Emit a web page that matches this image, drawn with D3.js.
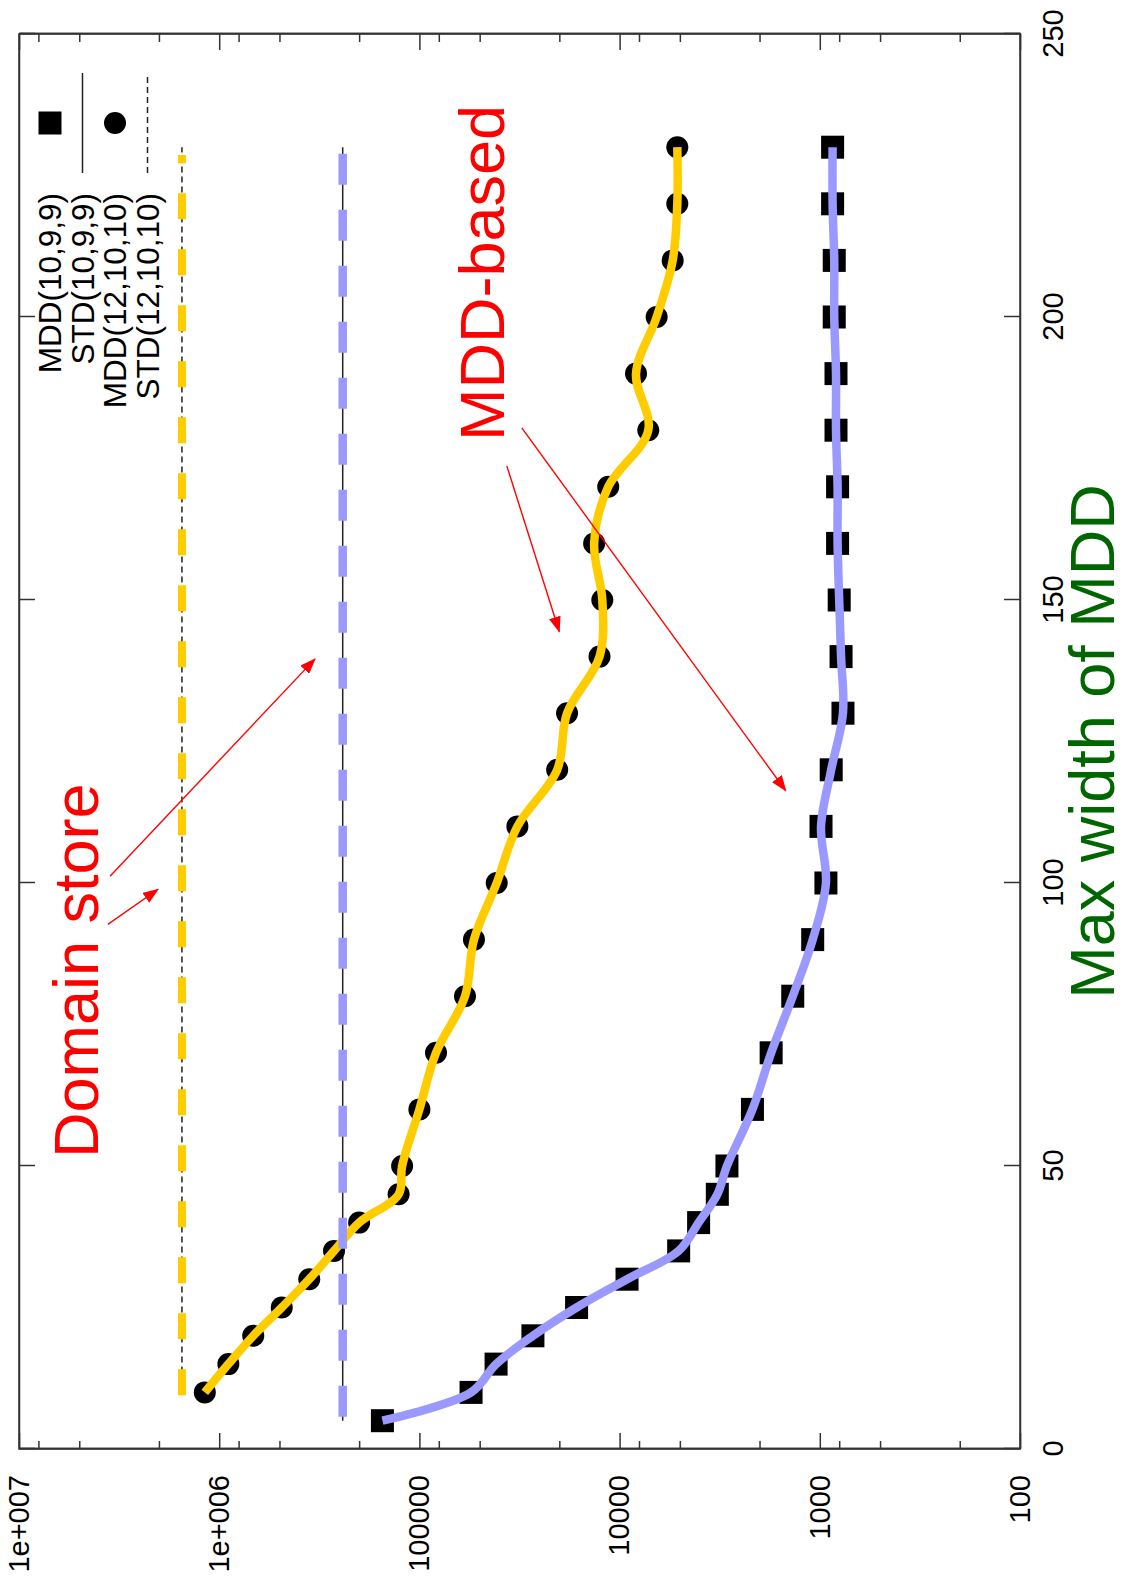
<!DOCTYPE html>
<html>
<head>
<meta charset="utf-8">
<script src="https://cdn.jsdelivr.net/npm/d3@7"></script>
<style>
  body { margin: 0; background: #fff; }
  text { font-family: "Liberation Sans", Arial, sans-serif; }
  .axis line, .axis path { stroke: #333; stroke-width: 1.5; }
</style>
</head>
<body>
<svg id="main"></svg>
<script>
// MDD(10,9,9) - squares
var widthA = [5,10,15,20,25,30,35,40,45,50,60,70,80,90,100,110,120,130,140,150,160,170,180,190,200,210,220,230];
var mddA = [153000,55200,41400,27100,16400,9180,5070,4030,3250,2910,2170,1750,1365,1085,932,986,877,766,783,800,815,815,830,830,847,847,863,863];
// MDD(12,10,10) - circles
var widthB = [10,15,20,25,30,35,40,45,50,60,70,80,90,100,110,120,130,140,150,160,170,180,190,200,210,220,230];
var mddB = [1180000,900000,676000,487000,355000,267000,200000,127000,122000,100000,82600,59200,53400,41100,32400,20500,18300,12600,12200,13400,11400,7190,8280,6530,5430,5150,5150];
// STD levels (constant over width)
var stdA = 241600;
var stdB = 1535000;

var legendNames = ["MDD(10,9,9)", "STD(10,9,9)", "MDD(12,10,10)", "STD(12,10,10)"];
var xTicks = [0, 50, 100, 150, 200, 250];
var yTicks = [100, 1000, 10000, 100000, 1000000, 10000000];
var yLabels = ["100", "1000", "10000", "100000", "1e+006", "1e+007"];
var minorSteps = [2, 5, 8];

var w = 1128, h = 1579;
var W = 1415, H = 1001;

var svg = d3.select("#main")
  .attr("width", w)
  .attr("height", h);

svg.append("defs").append("marker")
  .attr("id", "arrow")
  .attr("viewBox", "0 -6 16 12")
  .attr("refX", 15)
  .attr("refY", 0)
  .attr("markerUnits", "userSpaceOnUse")
  .attr("markerWidth", 16)
  .attr("markerHeight", 12)
  .attr("orient", "auto")
  .append("path")
  .attr("d", "M0,-6L16,0L0,6Z")
  .attr("fill", "#ff0000");

// whole gnuplot page is turned a quarter to the left
var g = svg.append("g")
  .attr("transform", "translate(19,1449) rotate(-90)");

var x = d3.scaleLinear().domain([0, 250]).range([0, W]);
var y = d3.scaleLog().domain([100, 1e7]).range([H, 0]);

var yMinor = [];
yTicks.slice(0, -1).forEach(function(d) {
  minorSteps.forEach(function(m) { yMinor.push(d * m); });
});

function styleAxis(sel) {
  sel.attr("font-size", 29)
    .attr("font-family", "Liberation Sans, Arial, sans-serif");
  sel.selectAll("text").attr("fill", "#000");
}

g.append("g")
  .attr("class", "axis")
  .attr("transform", "translate(0," + H + ")")
  .call(d3.axisBottom(x).tickValues(xTicks).tickSizeInner(-16).tickSizeOuter(0).tickPadding(22))
  .call(styleAxis);

g.append("g")
  .attr("class", "axis")
  .call(d3.axisTop(x).tickValues(xTicks).tickSizeInner(-16).tickSizeOuter(0).tickFormat(""));

g.append("g")
  .attr("class", "axis")
  .call(d3.axisLeft(y).tickValues(yTicks).tickFormat(function(d, i) { return yLabels[i]; })
    .tickSizeInner(-16).tickSizeOuter(0).tickPadding(26))
  .call(styleAxis);

g.append("g")
  .attr("class", "axis")
  .call(d3.axisLeft(y).tickValues(yMinor).tickSizeInner(-8).tickSizeOuter(0).tickFormat(""));

g.append("g")
  .attr("class", "axis")
  .attr("transform", "translate(" + W + ",0)")
  .call(d3.axisRight(y).tickValues(yTicks).tickSizeInner(-16).tickSizeOuter(0).tickFormat(""));

g.append("g")
  .attr("class", "axis")
  .attr("transform", "translate(" + W + ",0)")
  .call(d3.axisRight(y).tickValues(yMinor).tickSizeInner(-8).tickSizeOuter(0).tickFormat(""));

g.append("rect")
  .attr("width", W)
  .attr("height", H)
  .attr("fill", "none")
  .attr("stroke", "#333")
  .attr("stroke-width", 1.5);

// STD lines
var flat = d3.line()
  .x(function(d) { return x(d[0]); })
  .y(function(d) { return y(d[1]); });

g.append("path")
  .attr("d", flat([[widthA[0], stdA], [widthA[widthA.length - 1], stdA]]))
  .attr("stroke", "#222")
  .attr("stroke-width", 1.5)
  .attr("fill", "none");

g.append("path")
  .attr("d", flat([[widthB[0], stdB], [widthB[widthB.length - 1], stdB]]))
  .attr("stroke", "#222")
  .attr("stroke-width", 1.5)
  .attr("stroke-dasharray", "6,4")
  .attr("fill", "none");

// points
g.selectAll("rect.sq")
  .data(widthA)
  .enter()
  .append("rect")
  .attr("class", "sq")
  .attr("x", function(d) { return x(d) - 11.5; })
  .attr("y", function(d, i) { return y(mddA[i]) - 11.5; })
  .attr("width", 23)
  .attr("height", 23)
  .attr("fill", "#000");

g.selectAll("circle.ci")
  .data(widthB)
  .enter()
  .append("circle")
  .attr("class", "ci")
  .attr("cx", function(d) { return x(d); })
  .attr("cy", function(d, i) { return y(mddB[i]); })
  .attr("r", 11)
  .attr("fill", "#000");

// hand drawn smooth curves over the points
var smooth = d3.line()
  .curve(d3.curveCatmullRom.alpha(0.5))
  .x(function(d) { return x(d[0]); })
  .y(function(d) { return y(d[1]); });

g.append("path")
  .attr("d", smooth(widthA.map(function(d, i) { return [d, mddA[i]]; })))
  .attr("stroke", "#9999ff")
  .attr("stroke-width", 8.5)
  .attr("fill", "none");

g.append("path")
  .attr("d", smooth(widthB.map(function(d, i) { return [d, mddB[i]]; })))
  .attr("stroke", "#ffcc00")
  .attr("stroke-width", 8.5)
  .attr("fill", "none");

// coloured dashes over the STD levels
g.append("path")
  .attr("d", flat([[5.7, stdA], [229.5, stdA]]))
  .attr("stroke", "#9999ff")
  .attr("stroke-width", 8.5)
  .attr("stroke-dasharray", "31,25")
  .attr("fill", "none");

g.append("path")
  .attr("d", flat([[9.5, stdB], [228.6, stdB]]))
  .attr("stroke", "#ffcc00")
  .attr("stroke-width", 8)
  .attr("stroke-dasharray", "26,30")
  .attr("fill", "none");

// legend
var lg = g.append("g");
legendNames.forEach(function(name, i) {
  var cy = 31 + i * 32.5;
  lg.append("text")
    .attr("x", 1256)
    .attr("y", cy + 11)
    .attr("text-anchor", "end")
    .attr("font-size", 31.5)
    .text(name);
});
lg.append("rect").attr("x", 1326 - 11.5).attr("y", 31 - 11.5).attr("width", 23).attr("height", 23).attr("fill", "#000");
lg.append("line").attr("x1", 1276).attr("x2", 1376).attr("y1", 63.5).attr("y2", 63.5)
  .attr("stroke", "#222").attr("stroke-width", 1.5);
lg.append("circle").attr("cx", 1326).attr("cy", 96).attr("r", 11).attr("fill", "#000");
lg.append("line").attr("x1", 1276).attr("x2", 1376).attr("y1", 128.5).attr("y2", 128.5)
  .attr("stroke", "#222").attr("stroke-width", 1.5).attr("stroke-dasharray", "6,4");

// axis title
g.append("text")
  .attr("x", x(125))
  .attr("y", H + 94)
  .attr("text-anchor", "middle")
  .attr("font-size", 63)
  .attr("fill", "#006600")
  .text("Max width of MDD");

// red notes, placed in data space
var notes = [
  { text: "Domain store", x: 51.4, v: 4.03e6 },
  { text: "MDD-based", x: 178.1, v: 38000 }
];
var arrows = [
  { x1: 101.2, v1: 3.51e6, x2: 139.6, v2: 332000 },
  { x1: 92.7, v1: 3.60e6, x2: 98.9, v2: 2.02e6 },
  { x1: 173.7, v1: 36600, x2: 144.4, v2: 20000 },
  { x1: 180.4, v1: 30800, x2: 116.3, v2: 1479 }
];

notes.forEach(function(n) {
  g.append("text")
    .attr("x", x(n.x))
    .attr("y", y(n.v))
    .attr("font-size", 63)
    .attr("fill", "#ff0000")
    .text(n.text);
});

arrows.forEach(function(a) {
  g.append("line")
    .attr("x1", x(a.x1)).attr("y1", y(a.v1))
    .attr("x2", x(a.x2)).attr("y2", y(a.v2))
    .attr("stroke", "#ff0000")
    .attr("stroke-width", 1.4)
    .attr("marker-end", "url(#arrow)");
});
</script>
</body>
</html>
